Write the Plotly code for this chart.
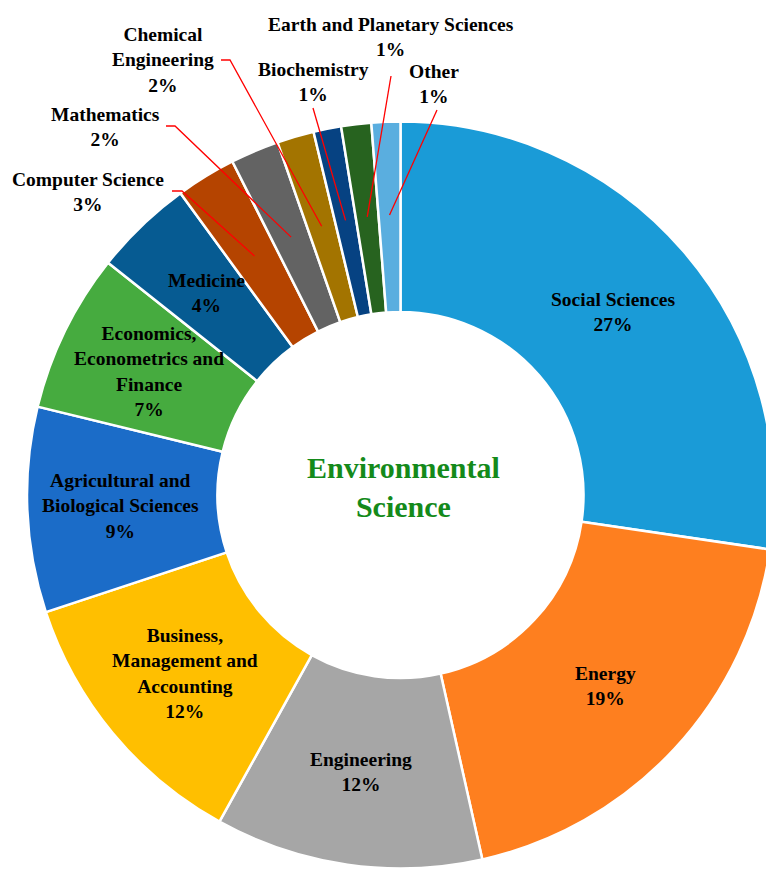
import math
import plotly.graph_objects as go

# ---------------- data ----------------
categories = [
    "Social Sciences", "Energy", "Engineering",
    "Business, Management and Accounting", "Agricultural and Biological Sciences",
    "Economics, Econometrics and Finance", "Medicine", "Computer Science",
    "Mathematics", "Chemical Engineering", "Biochemistry",
    "Earth and Planetary Sciences", "Other",
]
values = [27.4, 19.2, 11.6, 11.9, 8.9, 6.9, 4.3, 2.6, 2.1, 1.6, 1.2, 1.3, 1.25]
label_text = [
    "Social Sciences", "Energy", "Engineering",
    "Business,<br>Management and<br>Accounting", "Agricultural and<br>Biological Sciences",
    "Economics,<br>Econometrics and<br>Finance", "Medicine", "Computer Science",
    "Mathematics", "Chemical<br>Engineering", "Biochemistry",
    "Earth and Planetary Sciences", "Other",
]
colors = [
    "#1a9bd7", "#fe7f1f", "#a6a6a6", "#ffbf00", "#1b6cc8", "#46ab3f", "#065b92",
    "#b54400", "#636363", "#a37400", "#064282", "#27631f", "#5aaedf",
]
center_title = "Environmental<br>Science"

# ---------------- layout constants ----------------
PAGE_W, PAGE_H = 774, 871
OFF = 8                          # default body margin of the html page
W, H = PAGE_W - OFF, PAGE_H - OFF
CX, CY = 400.5, 495.0            # pie centre (page px, from top-left)
R = 373.5                        # outer radius (px)
HOLE = 0.49
LABEL_FRAC = 0.75                # radius fraction for labels / leader tips
FONT = "Liberation Serif, Times New Roman, serif"
FS = 19.5

# outside labels: text centre, leader start, optional elbow (page px)
outside = {
    "Computer Science": dict(text=(88, 192), start=(172, 191), elbow=(182, 191)),
    "Mathematics": dict(text=(105, 127), start=(166, 126), elbow=(175, 126)),
    "Chemical Engineering": dict(text=(163, 60), start=(221, 60), elbow=(230, 60)),
    "Biochemistry": dict(text=(313, 82), start=(313, 108), elbow=None),
    "Earth and Planetary Sciences": dict(text=(391, 37), start=(391, 76), elbow=None),
    "Other": dict(text=(434, 84), start=(437, 110), elbow=None),
}


def px(x, y):
    return (x - OFF) / W, 1 - (y - OFF) / H


cxf, cyf = CX - OFF, CY - OFF
fig = go.Figure()
fig.add_trace(go.Pie(
    labels=categories,
    values=values,
    sort=False,
    direction="clockwise",
    rotation=0,
    hole=HOLE,
    textinfo="none",
    hoverinfo="label+percent",
    marker=dict(colors=colors, line=dict(color="white", width=2.5)),
    domain=dict(x=[(cxf - R) / W, min(1.0, (cxf + R) / W)],
                y=[(H - cyf - R) / H, (H - cyf + R) / H]),
    showlegend=False,
))

total = sum(values)
annotations = []
shapes = []
cum = 0.0
for name, txt, v in zip(categories, label_text, values):
    theta = 2 * math.pi * (cum + v / 2) / total
    cum += v
    pct = f"{round(v / total * 100)}%"
    rr = R * LABEL_FRAC
    tx = CX + rr * math.sin(theta)
    ty = CY - rr * math.cos(theta)
    if name in outside:
        o = outside[name]
        lx, ly = px(*o["text"])
        annotations.append(dict(
            x=lx, y=ly, xref="paper", yref="paper", showarrow=False,
            text=f"<b>{txt}<br>{pct}</b>", align="center",
            xanchor="center", yanchor="middle",
            font=dict(family=FONT, size=FS, color="black"),
        ))
        pts = [o["start"]] + ([o["elbow"]] if o["elbow"] else []) + [(tx, ty)]
        path = "M " + " L ".join(f"{px(a, b)[0]:.5f},{px(a, b)[1]:.5f}" for a, b in pts)
        shapes.append(dict(type="path", path=path, xref="paper", yref="paper",
                           line=dict(color="#ff0000", width=1.3)))
    else:
        lx, ly = px(tx, ty)
        annotations.append(dict(
            x=lx, y=ly, xref="paper", yref="paper", showarrow=False,
            text=f"<b>{txt}<br>{pct}</b>", align="center",
            xanchor="center", yanchor="middle",
            font=dict(family=FONT, size=FS, color="black"),
        ))

cx_p, cy_p = px(CX + 3, CY - 8)
annotations.append(dict(
    x=cx_p, y=cy_p, xref="paper", yref="paper", showarrow=False,
    text=f"<b>{center_title}</b>", align="center",
    xanchor="center", yanchor="middle",
    font=dict(family=FONT, size=30, color="#148a1a"),
))

fig.update_layout(
    width=W, height=H,
    margin=dict(l=0, r=0, t=0, b=0),
    paper_bgcolor="white", plot_bgcolor="white",
    annotations=annotations, shapes=shapes,
)

fig.write_html("out.html")
